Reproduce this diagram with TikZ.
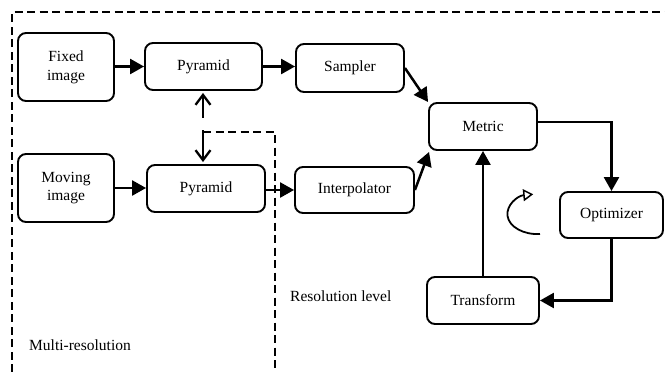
\documentclass[tikz,border=0pt]{standalone}
\usepackage{fontspec}
\setmainfont{Liberation Serif}
\usetikzlibrary{arrows.meta}
\begin{document}
\begin{tikzpicture}[x=1pt,y=-1pt,
  font=\fontsize{15.5}{18.6}\selectfont,
  block/.style={draw, line width=1.9pt, rounded corners=8pt, align=center,
    inner sep=0pt},
  flow/.style={line width=2.5pt, -{Triangle[length=14pt,width=15pt]}},
  frame/.style={line width=1.3pt, dash pattern=on 8pt off 4.5pt},
  twoway/.style={line width=2.5pt, {Straight Barb[length=10pt,width=15pt,line width=2.3pt]}-{Straight Barb[length=10pt,width=15pt,line width=2.3pt]}}
]
\useasboundingbox (0,0) rectangle (665,372);

% framing regions
\coordinate (frBL) at (12,372);
\coordinate (frTL) at (12,12);
\coordinate (frTR) at (665,12);
\draw[frame] (frBL) -- (frTL) -- (frTR);

% blocks
\node[block, minimum width=96pt, minimum height=68pt] (fixed) at (66,67) {Fixed\\image};
\node[block, minimum width=117pt, minimum height=47pt] (pyrA) at (203.5,66.5) {Pyramid};
\node[block, minimum width=108pt, minimum height=48pt] (sampler) at (350,68) {Sampler};
\node[block, minimum width=108pt, minimum height=47pt] (metric) at (483,126.5) {Metric};
\node[block, minimum width=96pt, minimum height=68pt] (moving) at (66,188) {Moving\\image};
\node[block, minimum width=118pt, minimum height=47pt] (pyrB) at (206,188.5) {Pyramid};
\node[block, minimum width=119pt, minimum height=46pt] (interp) at (354.5,190) {Interpolator};
\node[block, minimum width=103pt, minimum height=46pt] (optim) at (611.5,215) {Optimizer};
\node[block, minimum width=112pt, minimum height=47pt] (transform) at (483,300.5) {Transform};

% labels
\node[anchor=west, inner sep=0pt] (reslbl) at (290,296) {Resolution level};
\node[anchor=west, inner sep=0pt] (multilbl) at (29,345) {Multi-resolution};

% resolution level boundary
\coordinate (tee) at (203,132);
\coordinate (resTR) at (275,132);
\coordinate (resB) at (275,372);
\draw[frame] (tee) -- (resTR) -- (resB);

% pyramid link
\draw[twoway, dash pattern=on 22pt off 12pt on 60pt, shorten <=2pt, shorten >=2pt]
  (pyrA.south -| tee) -- (pyrB.north -| tee);

% data flow
\draw[flow] (fixed.east |- pyrA) -- (pyrA.west);
\draw[flow] (pyrA.east) -- (sampler.west |- pyrA);
\draw[flow] (moving.east) -- (pyrB.west |- moving);
\draw[flow] (pyrB.east |- interp) -- (interp.west);
\draw[flow] (sampler.east) -- (metric.north west);
\draw[flow] (interp.east) -- ([xshift=1pt,yshift=-1pt]metric.south west);

% optimization loop
\draw[flow] ([yshift=4.5pt]metric.east) -| (optim.north);
\draw[flow] (optim.south) |- (transform.east);
\draw[flow] (transform.north -| metric) -- (metric.south);

% iteration symbol
\coordinate (loopstart) at (540,234);
\draw[line width=1.8pt, -{Triangle[open, length=10pt, width=12pt, line width=1.5pt]}]
  (loopstart) arc[start angle=85, end angle=262, x radius=30, y radius=20];
\end{tikzpicture}
\end{document}
